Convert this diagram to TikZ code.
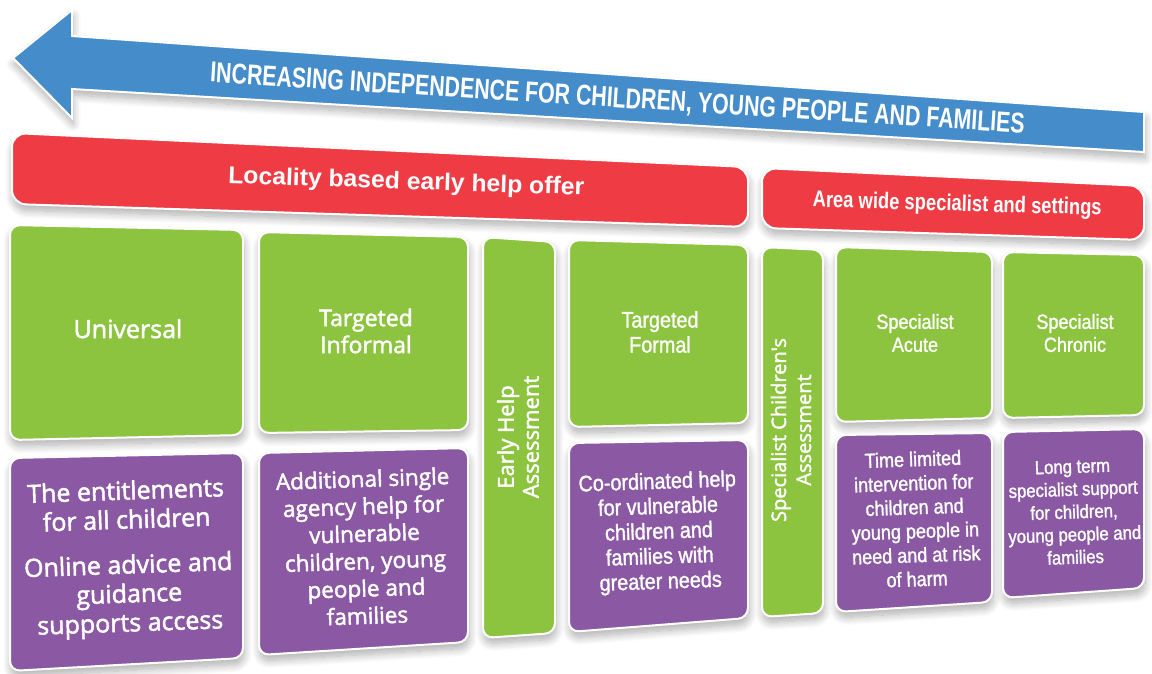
\documentclass[tikz,border=0pt]{standalone}
\usepackage{graphicx}
\usepackage{fontspec}
\setmainfont{Open Sans}
\newfontfamily\bodyfont[FakeBold=2]{Open Sans}
\newfontfamily\condfont[FakeStretch=0.88,FakeBold=1.3]{Liberation Sans}
\newfontfamily\headfont{Liberation Sans}
\usetikzlibrary{shadows.blur}

\definecolor{arrowblue}{RGB}{68,140,202}
\definecolor{barred}{RGB}{238,59,68}
\definecolor{tilegreen}{RGB}{140,196,63}
\definecolor{notepurple}{RGB}{139,89,163}

\begin{document}
\begin{tikzpicture}[x=1pt,y=-1pt,
  panel/.style={draw=white, line width=2pt,
    blur shadow={shadow xshift=1pt, shadow yshift=-6pt, shadow blur radius=8pt,
      shadow opacity=32, shadow blur steps=12}},
  bar/.style={panel, rounded corners=14pt, fill=barred},
  tile/.style={panel, rounded corners=10pt, fill=tilegreen},
  note/.style={panel, rounded corners=10pt, fill=notepurple},
  lbl/.style={text=white, inner sep=0pt, align=center},
  opensans/.style n args={2}{font=\bodyfont\fontsize{#1}{#2}\selectfont},
  narrow/.style n args={2}{font=\condfont\fontsize{#1}{#2}\selectfont},
]
\useasboundingbox (0,0) rectangle (1152,673);

% direction arrow
\path[panel, fill=arrowblue, line join=miter]
  (13,58) -- (72,10) -- (72,36) -- (1144,112) -- (1144,152) -- (72,89) -- (72,118) -- cycle;
\node[lbl, anchor=base, rotate=-3.6] (headline) at (617,107.5)
  {\resizebox{816pt}{20pt}{\headfont\bfseries INCREASING INDEPENDENCE FOR CHILDREN, YOUNG PEOPLE AND FAMILIES}};

% red header bars
\path[bar] (12,133) -- (748,167) -- (748,227) -- (12,204) -- cycle;
\node[lbl, anchor=base, rotate=-1.9] (locality) at (406,189)
  {\resizebox{356pt}{17.5pt}{\headfont\bfseries Locality based early help offer}};
\path[bar] (762,168) -- (1144,186) -- (1144,240) -- (762,228) -- cycle;
\node[lbl, anchor=base, rotate=-1.6] (areawide) at (957,211)
  {\resizebox{289pt}{16.5pt}{\headfont\bfseries Area wide specialist and settings}};

% green service tiles
\path[tile] (10,225) -- (243,230) -- (243,435) -- (10,440) -- cycle;
\path[tile] (259,232) -- (468,237) -- (468,430) -- (259,433) -- cycle;
\path[tile] (483,237) -- (555,242) -- (555,633) -- (483,638) -- cycle;
\path[tile] (569,240) -- (748,245) -- (748,423) -- (569,427) -- cycle;
\path[tile] (762,247) -- (823,250) -- (823,613) -- (762,617) -- cycle;
\path[tile] (836,247) -- (992,252) -- (992,418) -- (836,422) -- cycle;
\path[tile] (1003,252) -- (1144,255) -- (1144,415) -- (1003,418) -- cycle;

\node[lbl, opensans={25}{29}, anchor=base] (universal) at (128,338) {Universal};
\node[lbl, opensans={23}{27}] (informal) at (366,331) {Targeted\\Informal};
\node[lbl, opensans={22}{25}, rotate=90] (eha) at (518,437) {Early Help\\Assessment};
\node[lbl, narrow={22.5}{25}] (formal) at (660,332) {Targeted\\Formal};
\node[lbl, opensans={20}{25}, rotate=90] (sca) at (791,430) {Specialist Children's\\Assessment};
\node[lbl, narrow={20.5}{23}] (acute) at (915,333) {Specialist\\Acute};
\node[lbl, narrow={20.5}{23}] (chronic) at (1075,333) {Specialist\\Chronic};

% purple description panels
\path[note] (10,458) -- (243,453) -- (243,658) -- (10,671) -- cycle;
\path[note] (259,453) -- (468,448) -- (468,642) -- (259,655) -- cycle;
\path[note] (569,443) -- (748,440) -- (748,618) -- (569,632) -- cycle;
\path[note] (836,435) -- (992,433) -- (992,602) -- (836,612) -- cycle;
\path[note] (1003,432) -- (1144,429) -- (1144,588) -- (1003,598) -- cycle;

\node[lbl, opensans={25}{29}, rotate=2] (entitle) at (128,559)
  {The entitlements\\for all children\\[16pt]Online advice and\\guidance\\supports access};
\node[lbl, opensans={22.5}{27.4}, rotate=2] (single) at (365,547)
  {Additional single\\agency help for\\vulnerable\\children, young\\people and\\families};
\node[lbl, narrow={22.5}{25}, rotate=2] (coord) at (659,533)
  {Co-ordinated help\\for vulnerable\\children and\\families with\\greater needs};
\node[lbl, narrow={20.5}{24}, rotate=2] (timelim) at (915,519)
  {Time limited\\intervention for\\children and\\young people in\\need and at risk\\of harm};
\node[lbl, narrow={19}{22.7}, rotate=2] (longterm) at (1074,512)
  {Long term\\specialist support\\for children,\\young people and\\families};
\end{tikzpicture}
\end{document}
